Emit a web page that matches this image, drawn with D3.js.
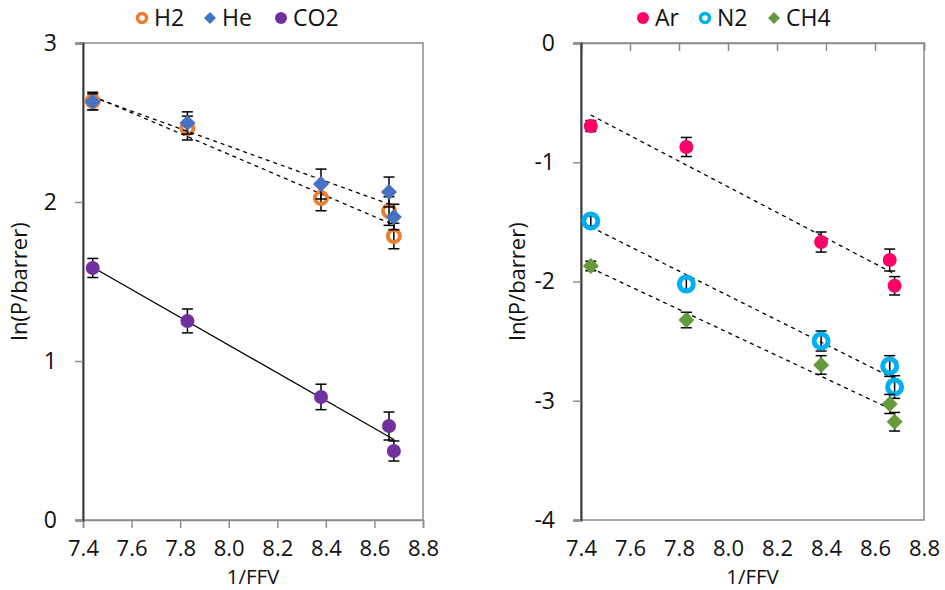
<!DOCTYPE html>
<html>
<head>
<meta charset="utf-8">
<script src="https://cdn.jsdelivr.net/npm/d3@7"></script>
<style>
  body { margin: 0; background: #fff; }
  svg { display: block; font-family: "Open Sans", sans-serif; }
</style>
</head>
<body>
<svg id="chart" width="945" height="590"></svg>
<script>
const ffv = [7.44, 7.83, 8.38, 8.66, 8.68];

// left panel: fast gases
const h2 = [2.635, 2.465, 2.025, 1.943, 1.786];
const h2Err = [0.055, 0.075, 0.08, 0.09, 0.08];
const he = [2.63, 2.497, 2.113, 2.063, 1.906];
const heErr = [0.05, 0.07, 0.094, 0.094, 0.08];
const co2 = [1.585, 1.252, 0.774, 0.591, 0.434];
const co2Err = [0.06, 0.075, 0.08, 0.088, 0.063];

// right panel: slow gases
const ar = [-0.696, -0.872, -1.669, -1.82, -2.036];
const arErr = [0.046, 0.08, 0.084, 0.092, 0.077];
const n2 = [-1.493, -2.021, -2.499, -2.709, -2.885];
const n2Err = [0.04, 0.06, 0.084, 0.087, 0.095];
const ch4 = [-1.87, -2.323, -2.7, -3.027, -3.176];
const ch4Err = [0.04, 0.065, 0.078, 0.08, 0.078];

const xTicks = [7.4, 7.6, 7.8, 8.0, 8.2, 8.4, 8.6, 8.8];

const svg = d3.select("#chart");

const panels = [
  {
    x0: 83, x1: 423, yDomain: [0, 3], yTicks: [0, 1, 2, 3],
    series: [
      { name: "H2", y: h2, err: h2Err, color: "#ED7D31", shape: "ring", r: 6, sw: 4, dash: "4,4" },
      { name: "He", y: he, err: heErr, color: "#4472C4", shape: "diamond", r: 8, dash: "4,4" },
      { name: "CO2", y: co2, err: co2Err, color: "#7030A0", shape: "dot", r: 7, dash: null }
    ],
    legendX: [142, 210, 281]
  },
  {
    x0: 581, x1: 924, yDomain: [-4, 0], yTicks: [-4, -3, -2, -1, 0],
    series: [
      { name: "Ar", y: ar, err: arErr, color: "#FF0066", shape: "dot", r: 7, dash: "4,4" },
      { name: "N2", y: n2, err: n2Err, color: "#00B0F0", shape: "ring", r: 7, sw: 5, dash: "4,4" },
      { name: "CH4", y: ch4, err: ch4Err, color: "#66993C", shape: "diamond", r: 8, dash: "4,4" }
    ],
    legendX: [643, 705, 774]
  }
];

const plotTop = 43, plotBottom = 520;

// least-squares fit of y on x
function linFit(xs, ys) {
  const mx = d3.mean(xs), my = d3.mean(ys);
  const sxy = d3.sum(xs, (v, i) => (v - mx) * (ys[i] - my));
  const sxx = d3.sum(xs, (v) => (v - mx) * (v - mx));
  const k = sxy / sxx;
  return (v) => my + k * (v - mx);
}

function drawMarker(g, shape, cx, cy, r, color, sw) {
  if (shape === "diamond") {
    g.append("path")
      .attr("d", `M${cx},${cy - r}L${cx + r},${cy}L${cx},${cy + r}L${cx - r},${cy}Z`)
      .attr("fill", color);
  } else if (shape === "ring") {
    g.append("circle")
      .attr("cx", cx).attr("cy", cy).attr("r", r)
      .attr("fill", "none")
      .attr("stroke", color)
      .attr("stroke-width", sw);
  } else {
    g.append("circle")
      .attr("cx", cx).attr("cy", cy).attr("r", r)
      .attr("fill", color);
  }
}

panels.forEach((p) => {
  const x = d3.scaleLinear().domain([7.4, 8.8]).range([p.x0, p.x1]);
  const y = d3.scaleLinear().domain(p.yDomain).range([plotBottom, plotTop]);
  const g = svg.append("g");

  // plot area border
  g.append("rect")
    .attr("x", p.x0).attr("y", plotTop)
    .attr("width", p.x1 - p.x0).attr("height", plotBottom - plotTop)
    .attr("fill", "none")
    .attr("stroke", "#8c8c8c")
    .attr("stroke-width", 1.5);

  // x axis crosses at y = 0
  const xAxis = g.append("g")
    .attr("transform", `translate(0,${y(0)})`)
    .call(d3.axisBottom(x).tickValues(xTicks).tickSize(8).tickFormat(""));
  xAxis.selectAll("line, path").attr("stroke", "#8c8c8c").attr("stroke-width", 1.5);

  // tick labels sit below the plot
  const xLabels = g.append("g")
    .attr("transform", `translate(0,${plotBottom})`)
    .call(d3.axisBottom(x).tickValues(xTicks).tickSize(0).tickPadding(20)
      .tickFormat(d3.format(".1f")));
  xLabels.select(".domain").remove();
  xLabels.selectAll("text")
    .attr("font-family", "Open Sans")
    .attr("font-size", 22)
    .attr("fill", "#111");

  const yAxis = g.append("g")
    .attr("transform", `translate(${p.x0},0)`)
    .call(d3.axisLeft(y).tickValues(p.yTicks).tickSize(8).tickPadding(18)
      .tickFormat((d) => String(d)));
  yAxis.selectAll(".tick line").attr("stroke", "#8c8c8c").attr("stroke-width", 1.5);
  yAxis.select(".domain").attr("stroke", "#3a3a3a").attr("stroke-width", 2);
  yAxis.selectAll("text")
    .attr("font-family", "Open Sans")
    .attr("font-size", 23)
    .attr("fill", "#111");

  // axis titles
  g.append("text")
    .attr("x", (p.x0 + p.x1) / 2)
    .attr("y", 584)
    .attr("text-anchor", "middle")
    .attr("font-size", 20.5)
    .attr("fill", "#111")
    .text("1/FFV");

  g.append("text")
    .attr("transform", `translate(${p.x0 - 56},${(plotTop + plotBottom) / 2}) rotate(-90)`)
    .attr("text-anchor", "middle")
    .attr("font-size", 22)
    .attr("fill", "#111")
    .text("ln(P/barrer)");

  p.series.forEach((s) => {
    // trendline over the measured range
    const fit = linFit(ffv, s.y);
    const xa = d3.min(ffv), xb = d3.max(ffv);
    g.append("line")
      .attr("x1", x(xa)).attr("y1", y(fit(xa)))
      .attr("x2", x(xb)).attr("y2", y(fit(xb)))
      .attr("stroke", "#000")
      .attr("stroke-width", 1.3)
      .attr("stroke-dasharray", s.dash);

    // error bars
    const eb = g.append("g").attr("stroke", "#000").attr("stroke-width", 1.5);
    ffv.forEach((v, i) => {
      const cx = x(v), ya = y(s.y[i] + s.err[i]), yb = y(s.y[i] - s.err[i]);
      eb.append("line").attr("x1", cx).attr("x2", cx).attr("y1", ya).attr("y2", yb);
      eb.append("line").attr("x1", cx - 5.5).attr("x2", cx + 5.5).attr("y1", ya).attr("y2", ya);
      eb.append("line").attr("x1", cx - 5.5).attr("x2", cx + 5.5).attr("y1", yb).attr("y2", yb);
    });

    // markers
    ffv.forEach((v, i) => {
      drawMarker(g, s.shape, x(v), y(s.y[i]), s.r, s.color, s.sw);
    });
  });

  // legend
  p.series.forEach((s, i) => {
    const lx = p.legendX[i];
    const small = s.shape === "ring" ? 4.5 : 6;
    drawMarker(g, s.shape, lx, 18, small, s.color, 3.5);
    g.append("text")
      .attr("x", lx + 12)
      .attr("y", 26)
      .attr("font-size", 23)
      .attr("fill", "#111")
      .text(s.name);
  });
});
</script>
</body>
</html>
